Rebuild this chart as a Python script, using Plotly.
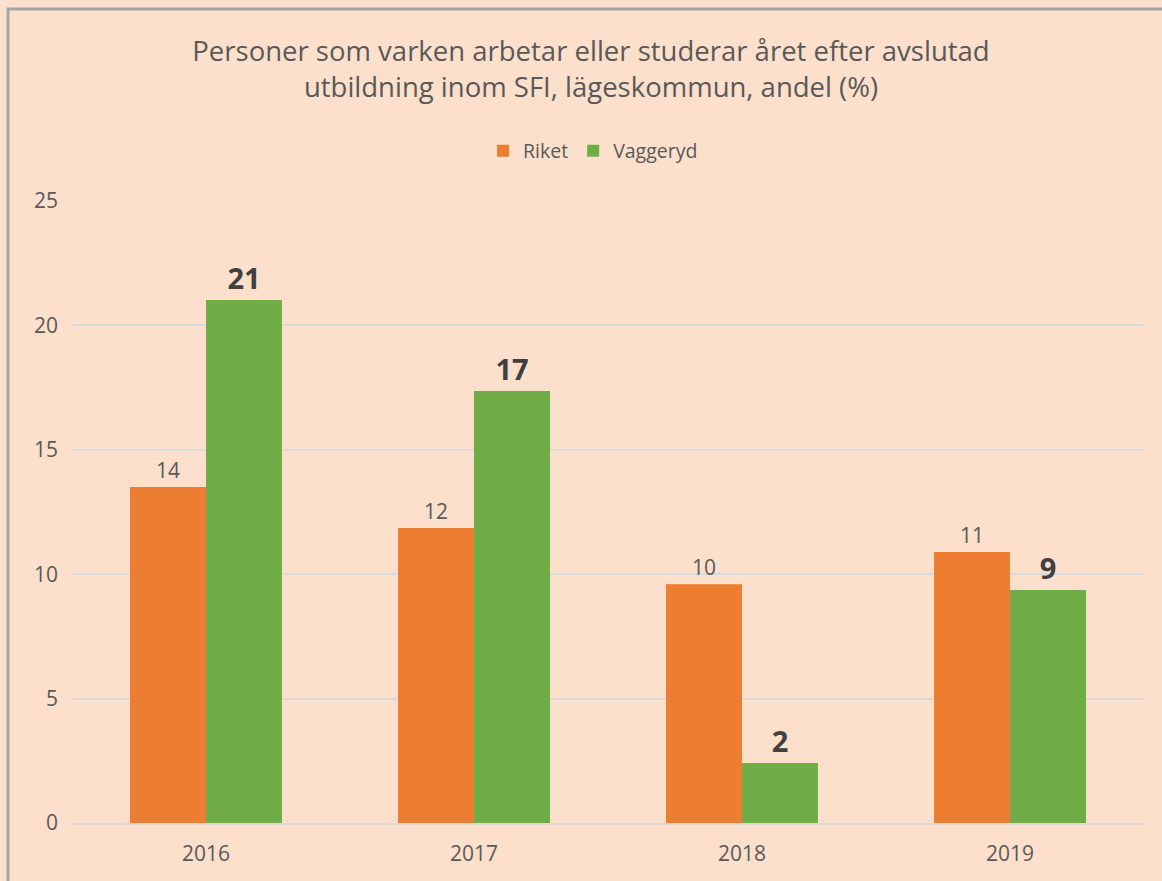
import plotly.graph_objects as go

years = ['2016', '2017', '2018', '2019']
riket = [13.5, 11.86, 9.6, 10.89]
vaggeryd = [21.02, 17.36, 2.41, 9.36]
y_ticks = [0, 5, 10, 15, 20, 25]

font_name = 'Open Sans'
grey = '#595959'
bg = '#FDE0CB'

fig = go.Figure()
fig.add_trace(go.Bar(
    x=years, y=riket, name='Riket',
    marker=dict(color='#ED7D31', line=dict(width=0)),
    texttemplate='%{y:.0f}', textposition='outside', cliponaxis=False,
    textfont=dict(family=font_name, size=21, color=grey)
))
fig.add_trace(go.Bar(
    x=years, y=vaggeryd, name='Vaggeryd',
    marker=dict(color='#70AD47', line=dict(width=0)),
    texttemplate='<b>%{y:.0f}</b>', textposition='outside', cliponaxis=False,
    textfont=dict(family=font_name, size=29, color='#404040')
))

fig.update_layout(
    width=1162, height=881,
    margin=dict(l=72, r=18, t=201, b=58),
    paper_bgcolor=bg, plot_bgcolor=bg,
    font=dict(family=font_name, color=grey, size=20),
    title=dict(
        text='Personer som varken arbetar eller studerar året efter avslutad<br>utbildning inom SFI, lägeskommun, andel (%)',
        x=591 / 1162, xanchor='center', y=1 - 61 / 881, yanchor='middle',
        font=dict(family=font_name, size=27.5, color=grey)
    ),
    legend=dict(
        orientation='h', xref='container', x=593 / 1162, xanchor='center',
        yref='container', y=1 - 151 / 881, yanchor='middle',
        font=dict(size=19.5, color=grey), bgcolor='rgba(0,0,0,0)',
        tracegroupgap=0
    ),
    barmode='group', bargap=0.433, bargroupgap=0,
    showlegend=True,
    shapes=[dict(
        type='rect', xref='paper', yref='paper',
        x0=(8 - 72) / 1072, x1=1.2, y0=-0.3, y1=1 + (201 - 9) / 622,
        line=dict(color='#A6A6A6', width=3), layer='below'
    )]
)
fig.update_yaxes(
    range=[0, 25], tickvals=y_ticks, showgrid=True, gridcolor='#D9D9D9',
    gridwidth=2, zeroline=False, showline=False, ticks='',
    tickfont=dict(size=21, color=grey), ticklabelstandoff=13
)
fig.update_xaxes(
    showline=True, linecolor='#D9D9D9', linewidth=2, ticks='',
    tickfont=dict(size=21, color=grey), ticklabelstandoff=11
)

fig.write_html(
    'out.html',
    config={'displayModeBar': False},
    post_script="document.body.style.margin='0';document.body.style.background='%s';" % bg
)
